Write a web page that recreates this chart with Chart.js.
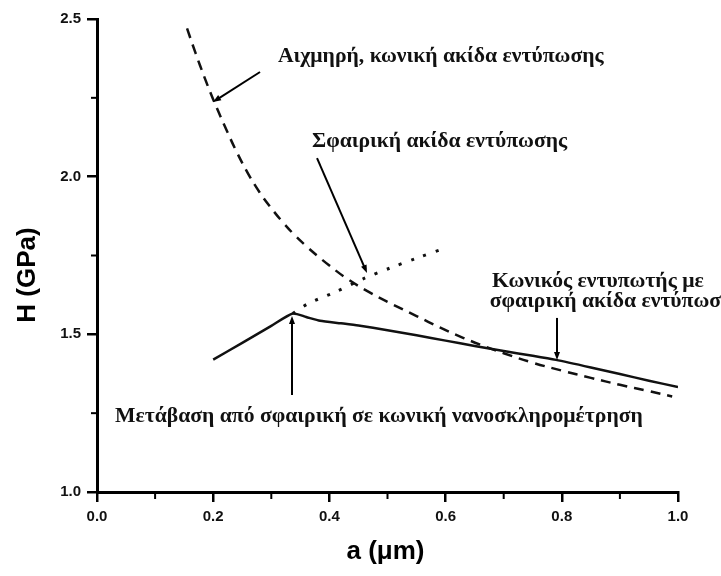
<!DOCTYPE html>
<html><head><meta charset="utf-8">
<script src="https://cdn.jsdelivr.net/npm/chart.js@4"></script>
<style>html,body{margin:0;padding:0;background:#fff;}</style>
</head><body>
<canvas id="c" width="721" height="576"></canvas>
<script>
// Sharp conical tip (dashed)
const coneA = [0.155,0.17,0.185,0.20,0.22,0.24,0.26,0.28,0.30,0.32,0.34,0.36,0.38,0.40,0.43,0.47,0.51,0.55,0.59,0.63,0.67,0.70,0.75,0.80,0.85,0.90,0.95,0.99];
const coneH = [2.47,2.39,2.315,2.245,2.16,2.08,2.01,1.95,1.90,1.855,1.815,1.78,1.748,1.718,1.677,1.632,1.594,1.558,1.522,1.489,1.46,1.44,1.41,1.385,1.362,1.34,1.32,1.303];
// Conical indenter with spherical tip (solid)
const tipA = [0.20,0.25,0.30,0.337,0.36,0.384,0.42,0.45,0.50,0.55,0.60,0.65,0.70,0.75,0.79,0.85,0.90,0.95,1.00];
const tipH = [1.42,1.473,1.527,1.566,1.555,1.543,1.535,1.528,1.513,1.497,1.48,1.463,1.447,1.432,1.419,1.395,1.374,1.353,1.333];
// Spherical tip (dotted)
const sphA = [0.337,0.363,0.41,0.458,0.504,0.551,0.597];
const sphH = [1.566,1.597,1.634,1.676,1.71,1.742,1.772];

const xTickLabels = ['0.0','0.2','0.4','0.6','0.8','1.0'];
const yTickLabels = ['1.0','1.5','2.0','2.5'];
const xMinorTicks = [0.1,0.3,0.5,0.7,0.9];
const yMinorTicks = [1.25,1.75,2.25];
const xTitle = 'a (\u03bcm)';
const yTitle = 'H (GPa)';

// annotation texts (left, baseline in data units)
const noteTexts = ['Αιχμηρή, κωνική ακίδα εντύπωσης','Σφαιρική ακίδα εντύπωσης','Κωνικός εντυπωτής με','σφαιρική ακίδα εντύπωσης','Μετάβαση από σφαιρική σε κωνική νανοσκληρομέτρηση'];
const noteA = [0.3115,0.370,0.680,0.676,0.031];
const noteH = [2.364,2.094,1.650,1.587,1.222];
// arrows: from (a0,H0) to (a1,H1)
const arrowA0 = [0.2806,0.3787,0.7917,0.3356];
const arrowH0 = [2.332,2.059,1.552,1.3076];
const arrowA1 = [0.1997,0.4647,0.7917,0.3356];
const arrowH1 = [2.237,1.6945,1.4186,1.558];

const pts = (xs, ys) => xs.map((x, i) => ({x, y: ys[i]}));

const extras = {
  id: 'extras',
  afterDraw(chart) {
    const ctx = chart.ctx, xs = chart.scales.x, ys = chart.scales.y;
    ctx.save();
    // minor ticks
    ctx.strokeStyle = '#000'; ctx.lineWidth = 2;
    xMinorTicks.forEach(v => { const p = xs.getPixelForValue(v); ctx.beginPath(); ctx.moveTo(p, ys.bottom); ctx.lineTo(p, ys.bottom + 7); ctx.stroke(); });
    yMinorTicks.forEach(v => { const p = ys.getPixelForValue(v); ctx.beginPath(); ctx.moveTo(xs.left, p); ctx.lineTo(xs.left - 6, p); ctx.stroke(); });
    // axis titles
    ctx.fillStyle = '#000';
    ctx.font = 'bold 26px "Liberation Sans", Arial, sans-serif';
    ctx.textAlign = 'center'; ctx.textBaseline = 'middle';
    ctx.fillText(xTitle, (xs.left + xs.right) / 2 - 2, 552);
    ctx.save(); ctx.translate(28, 275); ctx.rotate(-Math.PI / 2); ctx.fillText(yTitle, 0, 0); ctx.restore();
    // annotation texts
    ctx.font = 'bold 20px "Liberation Serif", "Times New Roman", serif';
    const w = ctx.measureText(noteTexts[4]).width;
    const fs = 20 * 528 / w;
    ctx.font = 'bold ' + fs.toFixed(2) + 'px "Liberation Serif", "Times New Roman", serif';
    ctx.textAlign = 'left'; ctx.textBaseline = 'alphabetic'; ctx.fillStyle = '#111';
    noteTexts.forEach((t, i) => ctx.fillText(t, xs.getPixelForValue(noteA[i]), ys.getPixelForValue(noteH[i])));
    // arrows
    ctx.strokeStyle = '#000'; ctx.fillStyle = '#000'; ctx.lineWidth = 2;
    arrowA0.forEach((a, i) => {
      const x0 = xs.getPixelForValue(a), y0 = ys.getPixelForValue(arrowH0[i]);
      const x1 = xs.getPixelForValue(arrowA1[i]), y1 = ys.getPixelForValue(arrowH1[i]);
      const ang = Math.atan2(y1 - y0, x1 - x0), L = 8, W = 3;
      ctx.beginPath(); ctx.moveTo(x0, y0); ctx.lineTo(x1 - Math.cos(ang) * 4, y1 - Math.sin(ang) * 4); ctx.stroke();
      ctx.beginPath();
      ctx.moveTo(x1, y1);
      ctx.lineTo(x1 - L * Math.cos(ang) + W * Math.sin(ang), y1 - L * Math.sin(ang) - W * Math.cos(ang));
      ctx.lineTo(x1 - L * Math.cos(ang) - W * Math.sin(ang), y1 - L * Math.sin(ang) + W * Math.cos(ang));
      ctx.closePath(); ctx.fill();
    });
    ctx.restore();
  }
};

new Chart(document.getElementById('c'), {
  type: 'scatter',
  data: {
    datasets: [
      { data: pts(coneA, coneH), showLine: true, borderColor: '#111', borderWidth: 2.5, borderDash: [10, 7], pointRadius: 0, tension: 0.4, fill: false },
      { data: pts(tipA, tipH), showLine: true, borderColor: '#111', borderWidth: 2.5, pointRadius: 0, tension: 0.2, fill: false },
      { data: pts(sphA, sphH), showLine: true, borderColor: '#111', borderWidth: 3, borderDash: [3, 10], pointRadius: 0, tension: 0.3, fill: false }
    ]
  },
  options: {
    responsive: false, animation: false, devicePixelRatio: 1,
    layout: { padding: { left: 0, right: 43, top: 19, bottom: 0 } },
    plugins: { legend: { display: false }, tooltip: { enabled: false } },
    scales: {
      x: {
        type: 'linear', min: 0, max: 1,
        afterFit: s => { s.height = 84; },
        border: { display: true, color: '#000', width: 3 },
        grid: { drawOnChartArea: false, drawTicks: true, tickLength: 10, tickWidth: 2.5, tickColor: '#000', lineWidth: 2.5 },
        ticks: { stepSize: 0.2, padding: 6, color: '#111', font: { family: '"Liberation Sans", Arial, sans-serif', size: 15, weight: 'bold' }, callback: (v, i) => xTickLabels[i], maxRotation: 0 }
      },
      y: {
        type: 'linear', min: 1, max: 2.5,
        afterFit: s => { s.width = 97; },
        border: { display: true, color: '#000', width: 3 },
        grid: { drawOnChartArea: false, drawTicks: true, tickLength: 10, tickWidth: 2.5, tickColor: '#000', lineWidth: 2.5 },
        ticks: { stepSize: 0.5, padding: 6, color: '#111', font: { family: '"Liberation Sans", Arial, sans-serif', size: 15, weight: 'bold' }, callback: (v, i) => yTickLabels[i] }
      }
    }
  },
  plugins: [extras]
});
</script>
</body></html>
